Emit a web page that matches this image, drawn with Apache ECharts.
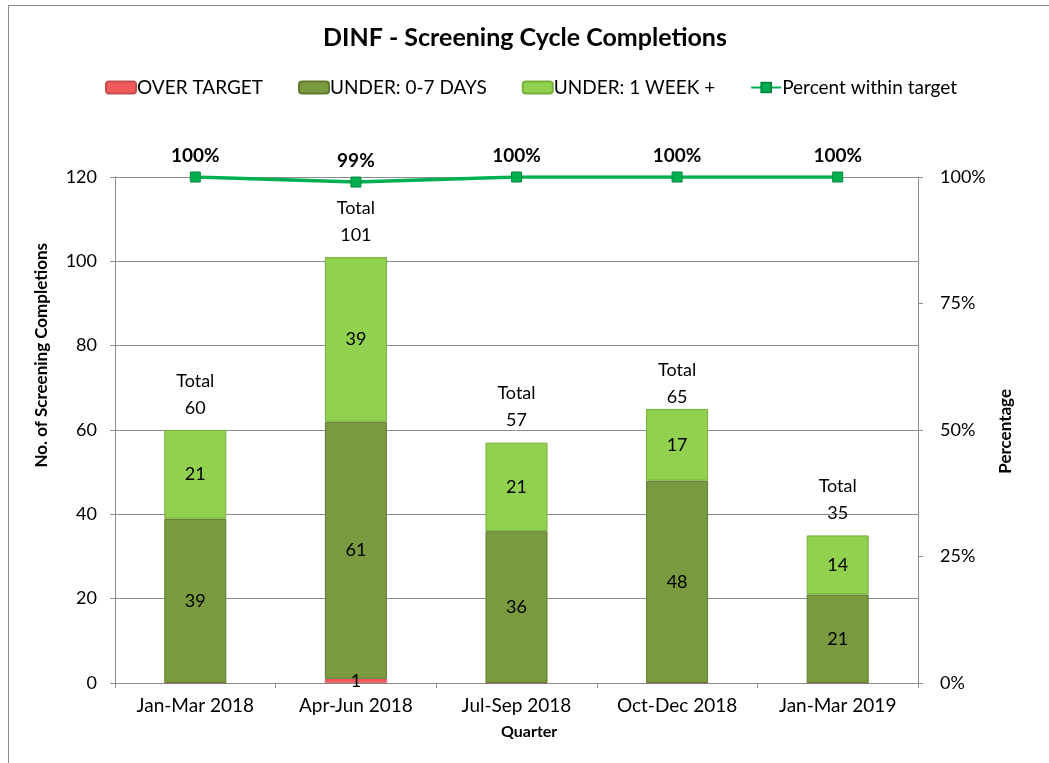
<!DOCTYPE html>
<html><head><meta charset="utf-8">
<script src="https://cdn.jsdelivr.net/npm/echarts@6/dist/echarts.min.js"></script>
<style>
html,body{margin:0;padding:0;background:#fff;}
#frame{position:absolute;left:8px;top:5px;width:1041px;height:758px;border-left:1px solid #8c8c8c;border-top:1px solid #8c8c8c;}
#c{position:absolute;left:0;top:0;width:1049px;height:763px;}
</style></head>
<body><div id="frame"></div><div id="c"></div>
<script>
const categories = ['Jan-Mar 2018','Apr-Jun 2018','Jul-Sep 2018','Oct-Dec 2018','Jan-Mar 2019'];
const overTarget = [0, 1, 0, 0, 0];
const under07 = [39, 61, 36, 48, 21];
const underWeek = [21, 39, 21, 17, 14];
const totals = [60, 101, 57, 65, 35];
const percentWithin = [1.00, 0.99, 1.00, 1.00, 1.00];
const leftTicks = [0, 20, 40, 60, 80, 100, 120];
const rightTicks = ['0%','25%','50%','75%','100%'];

const FONT = 'Lato';
const chart = echarts.init(document.getElementById('c'));
const lbl = {show:true, position:'inside', color:'#000', fontSize:18, fontFamily:FONT};
// label for Oct-Dec total sits closer to its bar in the reference
const totalData = totals.map((v, i) => i === 3 ? {value: v, label: {distance: -2}} : v);
chart.setOption({
  animation:false,
  textStyle:{fontFamily:FONT},
  title:{text:'DINF - Screening Cycle Completions', left:520, top:20, textAlign:'center',
    textStyle:{fontFamily:FONT, fontWeight:'bold', fontSize:25, color:'#000'}},
  legend:{top:73, left:100, itemGap:35, itemWidth:30, itemHeight:12,
    data:['OVER TARGET','UNDER: 0-7 DAYS','UNDER: 1 WEEK +','Percent within target'],
    textStyle:{fontFamily:FONT, fontSize:19, color:'#000', padding:[0,0,0,-4]}},
  grid:{left:115, right:131, top:177, bottom:80},
  xAxis:{type:'category', data:categories,
    axisLine:{lineStyle:{color:'#8c8c8c'}},
    axisTick:{show:true, length:5, lineStyle:{color:'#8c8c8c'}},
    axisLabel:{fontFamily:FONT, fontSize:19, color:'#000', margin:13}},
  yAxis:[
    {type:'value', min:0, max:120, interval:20,
     axisLine:{show:true, lineStyle:{color:'#8c8c8c'}},
     axisTick:{show:true, length:5, lineStyle:{color:'#8c8c8c'}},
     splitLine:{lineStyle:{color:'#8c8c8c'}},
     axisLabel:{fontFamily:FONT, fontSize:18, color:'#000', margin:18,
       formatter:v=>leftTicks.includes(v)?String(v):''}},
    {type:'value', min:0, max:1, interval:0.25, position:'right',
     axisLine:{show:true, lineStyle:{color:'#8c8c8c'}},
     axisTick:{show:true, length:5, lineStyle:{color:'#8c8c8c'}},
     splitLine:{show:false},
     axisLabel:{fontFamily:FONT, fontSize:18, color:'#000', margin:22,
       formatter:v=>rightTicks[Math.round(v*4)]}}
  ],
  graphic:[
    {type:'text', left:33, top:243, rotation:Math.PI/2, style:{text:'No. of Screening Completions', font:'bold 17px '+FONT, fill:'#000'}},
    {type:'text', left:997, top:389, rotation:Math.PI/2, style:{text:'Percentage', font:'bold 17px '+FONT, fill:'#000'}},
    {type:'text', left:501, top:724, style:{text:'Quarter', font:'bold 16px '+FONT, fill:'#000'}}
  ],
  series:[
    {name:'OVER TARGET', type:'bar', stack:'s', data:overTarget, barWidth:62,
     itemStyle:{color:'#f05a5a', borderColor:'#c0504d', borderWidth:0.5},
     label:Object.assign({}, lbl, {formatter:p=>p.value>0?String(p.value):''})},
    {name:'UNDER: 0-7 DAYS', type:'bar', stack:'s', data:under07,
     itemStyle:{color:'#7a9a3f', borderColor:'#5f7a2e', borderWidth:1},
     label:lbl},
    {name:'UNDER: 1 WEEK +', type:'bar', stack:'s', data:underWeek,
     itemStyle:{color:'#92d050', borderColor:'#76b03a', borderWidth:1},
     label:lbl},
    {name:'Totals', type:'line', data:totalData, symbol:'circle', symbolSize:1,
     itemStyle:{color:'transparent'}, lineStyle:{width:0, color:'transparent'}, silent:true,
     label:{show:true, position:'top', distance:8, color:'#000', fontSize:18, fontFamily:FONT,
       lineHeight:27, formatter:p=>'Total\n'+p.value}},
    {name:'Percent within target', type:'line', yAxisIndex:1, data:percentWithin,
     symbol:'rect', symbolSize:10, z:10,
     lineStyle:{color:'#00b050', width:3.5},
     itemStyle:{color:'#00b050', borderColor:'#008a3e', borderWidth:1},
     label:{show:true, position:'top', distance:6, color:'#000', fontWeight:'bold', fontSize:19, fontFamily:FONT,
       formatter:p=>Math.round(p.value*100)+'%'}}
  ]
});
</script></body></html>
